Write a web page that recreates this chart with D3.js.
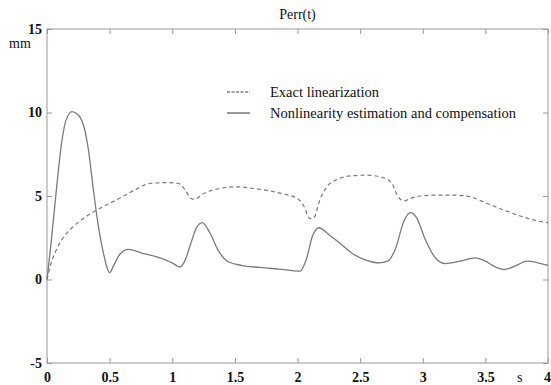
<!DOCTYPE html>
<meta charset="utf-8">
<head>
<style>
  body { margin: 0; background: #fff; }
  svg text { font-family: "Liberation Serif", "DejaVu Serif", "Times New Roman", serif !important; fill: #111; }
</style>
</head>
<body>
<script src="https://d3js.org/d3.v7.min.js"></script>
<div id="chart"></div>
<script>

// time points (s) and error values (mm)
var tSolid = [0, 0.03, 0.07, 0.11, 0.15, 0.2, 0.25, 0.3, 0.33, 0.37, 0.41, 0.45, 0.48, 0.5, 0.53, 0.58, 0.65, 0.75, 0.9, 1.0,
  1.06, 1.1, 1.15, 1.2, 1.24, 1.3, 1.37, 1.45, 1.55, 1.7, 1.85, 2.02, 2.07, 2.12, 2.17, 2.25, 2.35, 2.45, 2.55, 2.65,
  2.72, 2.78, 2.85, 2.9, 2.95, 3.02, 3.1, 3.18, 3.3, 3.42, 3.5, 3.58, 3.65, 3.75, 3.83, 3.92, 4.0];
var nonlinComp = [0, 2.0, 5.0, 7.8, 9.5, 10.05, 9.85, 9.0, 7.8, 5.4, 3.2, 1.6, 0.7, 0.4, 0.8, 1.5, 1.8, 1.6, 1.3, 1.0,
  0.75, 1.1, 2.2, 3.2, 3.4, 2.8, 1.7, 1.05, 0.85, 0.72, 0.62, 0.5, 1.2, 2.6, 3.1, 2.7, 2.1, 1.5, 1.15, 1.0,
  1.1, 1.8, 3.5, 4.0, 3.7, 2.4, 1.3, 0.95, 1.1, 1.3, 1.1, 0.75, 0.6, 0.85, 1.1, 1.0, 0.85];

var tDashed = [0, 0.03, 0.07, 0.12, 0.2, 0.3, 0.42, 0.55, 0.7, 0.82, 0.95, 1.05, 1.1, 1.15, 1.18, 1.24, 1.32, 1.42, 1.52, 1.65,
  1.78, 1.9, 2.0, 2.05, 2.1, 2.13, 2.18, 2.24, 2.32, 2.42, 2.55, 2.68, 2.75, 2.8, 2.85, 2.9, 2.98, 3.1, 3.25, 3.38,
  3.5, 3.65, 3.8, 3.92, 4.0];
var exactLin = [0, 0.9, 1.7, 2.4, 3.1, 3.7, 4.25, 4.75, 5.35, 5.75, 5.8, 5.75, 5.4, 4.85, 4.8, 5.1, 5.35, 5.5, 5.55, 5.45,
  5.3, 5.1, 4.85, 4.4, 3.65, 3.7, 4.8, 5.6, 6.0, 6.2, 6.25, 6.1, 5.8, 5.0, 4.7, 4.85, 5.0, 5.05, 5.05, 4.95,
  4.6, 4.15, 3.75, 3.5, 3.4];

var xTicks = [0, 0.5, 1, 1.5, 2, 2.5, 3, 3.5, 4];
var yTicks = [-5, 0, 5, 10, 15];
var legendLabels = ["Exact linearization", "Nonlinearity estimation and compensation"];

var W = 551, H = 385;
var margin = {top: 29, right: 3, bottom: 22, left: 47};
var width = W - margin.left - margin.right,
    height = H - margin.top - margin.bottom;

var svg = d3.select("#chart").append("svg")
  .attr("width", W)
  .attr("height", H)
  .append("g")
  .attr("transform", "translate(" + margin.left + "," + margin.top + ")");

var x = d3.scaleLinear().domain([0, 4]).range([0, width]);
var y = d3.scaleLinear().domain([-5, 15]).range([height, 0]);

var axisColor = "#999";
var tickLen = 5;

// frame
svg.append("rect")
  .attr("x", 0).attr("y", 0)
  .attr("width", width).attr("height", height)
  .attr("fill", "none").attr("stroke", axisColor).attr("stroke-width", 1);

// inward ticks on all four sides
var bottomAx = svg.append("g").attr("transform", "translate(0," + height + ")")
  .call(d3.axisBottom(x).tickValues(xTicks).tickSizeInner(-tickLen).tickSizeOuter(0).tickPadding(9)
    .tickFormat(function(d) { return d; }));
var topAx = svg.append("g")
  .call(d3.axisTop(x).tickValues(xTicks).tickSizeInner(-tickLen).tickSizeOuter(0).tickFormat(""));
var leftAx = svg.append("g")
  .call(d3.axisLeft(y).tickValues(yTicks).tickSizeInner(-tickLen).tickSizeOuter(0).tickPadding(5)
    .tickFormat(function(d) { return d; }));
var rightAx = svg.append("g").attr("transform", "translate(" + width + ",0)")
  .call(d3.axisRight(y).tickValues(yTicks).tickSizeInner(-tickLen).tickSizeOuter(0).tickFormat(""));

[bottomAx, topAx, leftAx, rightAx].forEach(function(a) {
  a.attr("font-family", null);
  a.select(".domain").remove();
  a.selectAll("line").attr("stroke", axisColor);
  a.selectAll("text")
    .style("font-size", "14px")
    .style("font-weight", "bold")
    .attr("fill", "#222");
});

// keep the "4" label inside the window
bottomAx.selectAll(".tick text").filter(function(d) { return d == 4; }).attr("dx", -1);

// curves
var lineGen = d3.line()
  .x(function(d) { return x(d[0]); })
  .y(function(d) { return y(d[1]); })
  .curve(d3.curveMonotoneX);

var solidPts = tSolid.map(function(t, i) { return [t, nonlinComp[i]]; });
var dashPts = tDashed.map(function(t, i) { return [t, exactLin[i]]; });

svg.append("path")
  .datum(dashPts)
  .attr("d", lineGen)
  .attr("fill", "none")
  .attr("stroke", "#7a7a7a")
  .attr("stroke-width", 1.2)
  .attr("stroke-dasharray", "4,3");

svg.append("path")
  .datum(solidPts)
  .attr("d", lineGen)
  .attr("fill", "none")
  .attr("stroke", "#7a7a7a")
  .attr("stroke-width", 1.3);

// title and axis units
svg.append("text")
  .attr("x", width / 2).attr("y", -10)
  .attr("text-anchor", "middle")
  .style("font-size", "14px")
  .text("Perr(t)");

svg.append("text")
  .attr("x", -38).attr("y", 19)
  .style("font-size", "14px")
  .text("mm");

svg.append("text")
  .attr("x", 470).attr("y", height + 19)
  .style("font-size", "14px")
  .text("s");

// legend
var legend = svg.append("g").attr("transform", "translate(180,63)");
legendLabels.forEach(function(lbl, i) {
  var row = legend.append("g").attr("transform", "translate(0," + (i * 21) + ")");
  row.append("line")
    .attr("x1", 0).attr("x2", 23).attr("y1", 0).attr("y2", 0)
    .attr("stroke", "#444").attr("stroke-width", 1.1)
    .attr("stroke-dasharray", i == 0 ? "3,1.5" : null);
  row.append("text")
    .attr("x", 43).attr("y", 4.5)
    .style("font-size", "14.5px")
    .text(lbl);
});

</script>
</body>
